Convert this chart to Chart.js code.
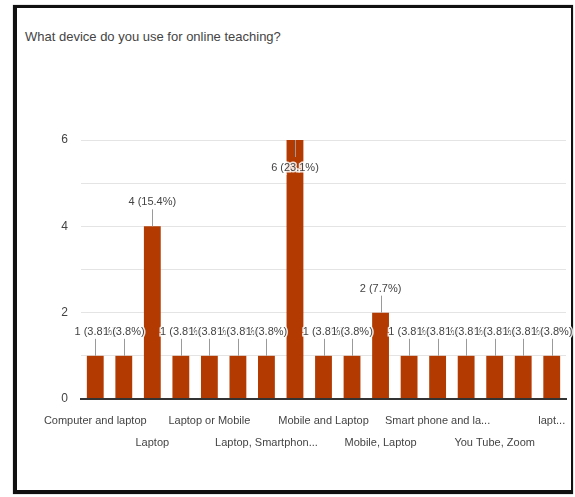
<!DOCTYPE html>
<html>
<head>
<meta charset="utf-8">
<script src="https://cdn.jsdelivr.net/npm/chart.js@4.4.0/dist/chart.umd.min.js"></script>
<style>
  body { margin: 0; background: #fff; }
  #frame {
    position: absolute; left: 13px; top: 5px;
    width: 554px; height: 482px;
    border-style: solid; border-color: #111;
    border-width: 3px 2px 4px 4px;
    box-shadow: 0 0 1px #777;
  }
  #title {
    position: absolute; left: 25px; top: 29px;
    font: 13px "Liberation Sans", Arial, sans-serif; color: #444;
  }
  #chart { position: absolute; left: 0; top: 0; }
</style>
</head>
<body>
<div id="frame"></div>
<div id="title">What device do you use for online teaching?</div>
<canvas id="chart" width="575" height="497"></canvas>
<script>
// answers, sorted the way the form lists them
const devices = [
  'Computer and laptop', 'Desktop', 'Laptop', 'Laptop and Mobile phone',
  'Laptop or Mobile', 'Laptop, Mobile', 'Laptop, Smartphone, Tablet', 'Mobile',
  'Mobile and Laptop', 'Mobile phone', 'Mobile, Laptop', 'Smart phone',
  'Smart phone and laptop', 'Smartphone', 'You Tube, Zoom', 'Zoom', 'laptop and mobile'
];
const counts = [1, 1, 4, 1, 1, 1, 1, 6, 1, 1, 2, 1, 1, 1, 1, 1, 1];
const yTicks = [0, 2, 4, 6];
// axis text as it fits under the bars (every other answer, two staggered rows)
const xTickText = [
  'Computer and laptop', '', 'Laptop', '', 'Laptop or Mobile', '', 'Laptop, Smartphon...', '',
  'Mobile and Laptop', '', 'Mobile, Laptop', '', 'Smart phone and la...', '', 'You Tube, Zoom', '', 'lapt...'
];

const total = counts.reduce((a, b) => a + b, 0);
const barColor = '#b33b02';
const font = '"Liberation Sans", Arial, sans-serif';

// "n (p%)" over each bar with a short grey leader line
const valueLabels = {
  id: 'valueLabels',
  afterDatasetsDraw(chart) {
    const ctx = chart.ctx;
    const meta = chart.getDatasetMeta(0);
    const area = chart.chartArea;
    ctx.save();
    ctx.font = '11px ' + font;
    ctx.textAlign = 'center';
    ctx.textBaseline = 'middle';
    meta.data.forEach((bar, i) => {
      const v = counts[i];
      const txt = v + ' (' + (v / total * 100).toFixed(1) + '%)';
      let y1, y2, ty;
      if (bar.y - 30 < area.top) {
        y1 = bar.y; y2 = bar.y + 17; ty = bar.y + 28;
      } else {
        y1 = bar.y - 17; y2 = bar.y; ty = bar.y - 24;
      }
      ctx.strokeStyle = '#9a9a9a';
      ctx.lineWidth = 1;
      ctx.beginPath();
      ctx.moveTo(Math.round(bar.x) + 0.5, y1);
      ctx.lineTo(Math.round(bar.x) + 0.5, y2);
      ctx.stroke();
      ctx.lineWidth = 3;
      ctx.strokeStyle = 'rgba(255,255,255,0.85)';
      ctx.strokeText(txt, bar.x, ty);
      ctx.fillStyle = '#444';
      ctx.fillText(txt, bar.x, ty);
    });
    ctx.restore();
  }
};

const ctx = document.getElementById('chart').getContext('2d');
new Chart(ctx, {
  type: 'bar',
  data: {
    labels: devices,
    datasets: [{
      data: counts,
      backgroundColor: barColor,
      borderWidth: 0,
      categoryPercentage: 1,
      barPercentage: 0.59
    }]
  },
  options: {
    responsive: false,
    animation: false,
    layout: { padding: { left: 0, right: 9, top: 140, bottom: 38 } },
    plugins: {
      legend: { display: false },
      tooltip: { enabled: false }
    },
    scales: {
      x: {
        grid: { display: false },
        border: { color: '#333', width: 2 },
        ticks: {
          autoSkip: false,
          maxRotation: 0,
          padding: 3,
          color: '#444',
          font: { family: font, size: 11, lineHeight: 2 },
          callback: function (value, index) {
            const t = xTickText[index];
            return index % 4 === 2 ? ['', t] : t;
          }
        },
        afterFit: s => { s.height = 60; }
      },
      y: {
        min: 0,
        max: 6,
        border: { display: false },
        grid: {
          drawTicks: false,
          color: c => c.tick.value === 0 ? '#333' : '#e4e4e4',
          lineWidth: c => c.tick.value === 0 ? 2 : 1
        },
        ticks: {
          stepSize: 1,
          padding: 13,
          color: '#444',
          font: { family: font, size: 12 },
          callback: v => yTicks.includes(v) ? v : ''
        },
        afterFit: s => { s.width = 81; }
      }
    }
  },
  plugins: [valueLabels]
});
</script>
</body>
</html>
